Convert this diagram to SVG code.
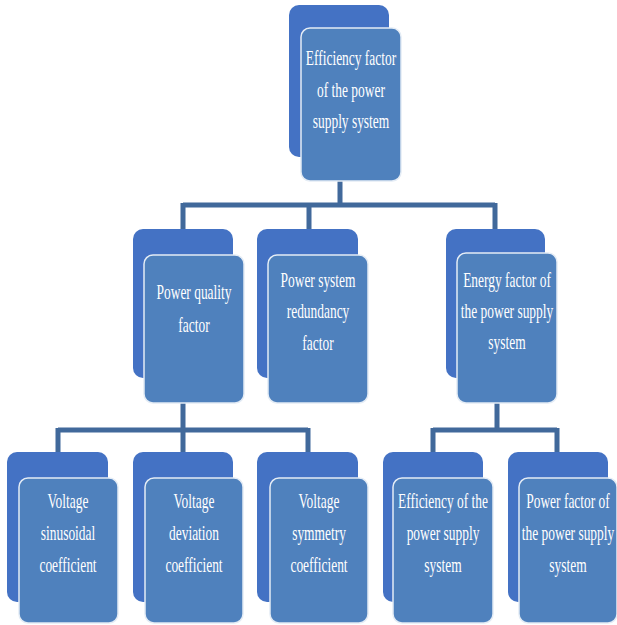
<svg xmlns="http://www.w3.org/2000/svg" width="617" height="625" viewBox="0 0 617 625">
<style>
.back{fill:#4472c4}
.front{fill:#4f81bd;stroke:#e4ecf5;stroke-width:1.5}
.lbl{font-family:"Liberation Serif","Times New Roman",serif;font-size:21px;fill:#ffffff;text-anchor:middle}
.conn{stroke:#41699b;stroke-width:5;fill:none}
</style>
<rect width="617" height="625" fill="#ffffff"/>
<g id="connectors" class="conn">
<path d="M340,181V205M183,205H495M183,203V229M309,203V229M495,203V229"/>
<path d="M183,403V430M58,430H308M58,428V452M183,428V452M308,428V452"/>
<path d="M497,403V430M433,430H557M433,428V452M557,428V452"/>
</g>
<g id="n-top">
<rect class="back" x="289" y="5" width="100" height="152" rx="10"/>
<rect class="front" x="301" y="28" width="100" height="153" rx="9"/>
<text class="lbl" transform="translate(351,0) scale(0.64,1)"><tspan x="0" y="65">Efficiency factor</tspan><tspan x="0" y="97">of the power</tspan><tspan x="0" y="128">supply system</tspan></text>
</g>
<g id="n-pq">
<rect class="back" x="133" y="229" width="100" height="149" rx="10"/>
<rect class="front" x="144" y="255" width="100" height="148" rx="9"/>
<text class="lbl" transform="translate(194,0) scale(0.64,1)"><tspan x="0" y="299">Power quality</tspan><tspan x="0" y="332">factor</tspan></text>
</g>
<g id="n-red">
<rect class="back" x="257" y="229" width="101" height="149" rx="10"/>
<rect class="front" x="268" y="255" width="100" height="148" rx="9"/>
<text class="lbl" transform="translate(318,0) scale(0.64,1)"><tspan x="0" y="287">Power system</tspan><tspan x="0" y="318">redundancy</tspan><tspan x="0" y="350">factor</tspan></text>
</g>
<g id="n-en">
<rect class="back" x="446" y="229" width="99" height="149" rx="10"/>
<rect class="front" x="457" y="253" width="100" height="150" rx="9"/>
<text class="lbl" transform="translate(507,0) scale(0.64,1)"><tspan x="0" y="287">Energy factor of</tspan><tspan x="0" y="318">the power supply</tspan><tspan x="0" y="349">system</tspan></text>
</g>
<g id="n-v1">
<rect class="back" x="7" y="452" width="101" height="150" rx="10"/>
<rect class="front" x="19" y="478" width="99" height="145" rx="9"/>
<text class="lbl" transform="translate(68,0) scale(0.64,1)"><tspan x="0" y="508">Voltage</tspan><tspan x="0" y="540">sinusoidal</tspan><tspan x="0" y="572">coefficient</tspan></text>
</g>
<g id="n-v2">
<rect class="back" x="133" y="452" width="100" height="150" rx="10"/>
<rect class="front" x="145" y="478" width="98" height="145" rx="9"/>
<text class="lbl" transform="translate(194,0) scale(0.64,1)"><tspan x="0" y="508">Voltage</tspan><tspan x="0" y="540">deviation</tspan><tspan x="0" y="572">coefficient</tspan></text>
</g>
<g id="n-v3">
<rect class="back" x="257" y="452" width="101" height="150" rx="10"/>
<rect class="front" x="270" y="478" width="98" height="145" rx="9"/>
<text class="lbl" transform="translate(319,0) scale(0.64,1)"><tspan x="0" y="508">Voltage</tspan><tspan x="0" y="540">symmetry</tspan><tspan x="0" y="572">coefficient</tspan></text>
</g>
<g id="n-e1">
<rect class="back" x="383" y="452" width="100" height="150" rx="10"/>
<rect class="front" x="393" y="478" width="100" height="145" rx="9"/>
<text class="lbl" transform="translate(443,0) scale(0.64,1)"><tspan x="0" y="508">Efficiency of the</tspan><tspan x="0" y="540">power supply</tspan><tspan x="0" y="572">system</tspan></text>
</g>
<g id="n-e2">
<rect class="back" x="508" y="452" width="100" height="150" rx="10"/>
<rect class="front" x="519" y="478" width="98" height="145" rx="9"/>
<text class="lbl" transform="translate(568,0) scale(0.64,1)"><tspan x="0" y="508">Power factor of</tspan><tspan x="0" y="540">the power supply</tspan><tspan x="0" y="572">system</tspan></text>
</g>
</svg>
